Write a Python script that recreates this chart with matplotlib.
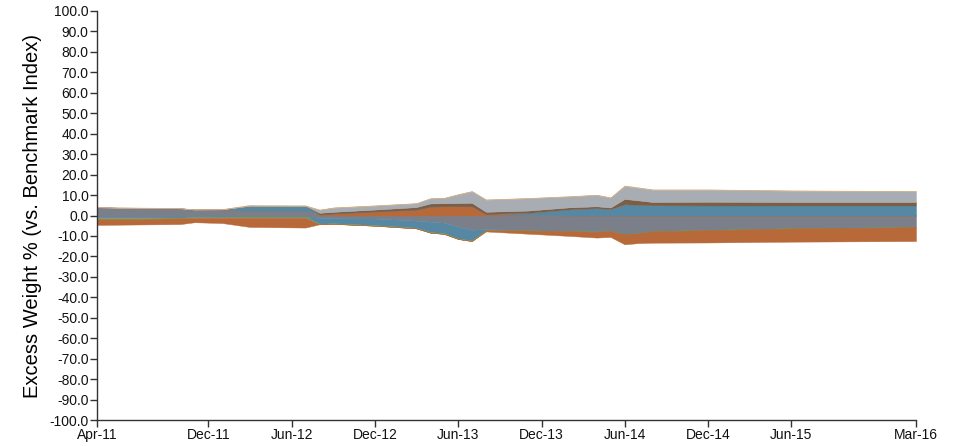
import numpy as np
import pandas as pd
import matplotlib
matplotlib.use("Agg")
import matplotlib.pyplot as plt
import matplotlib.dates as mdates

plt.rcParams['font.family'] = ['Liberation Sans', 'DejaVu Sans']

dates = ["2011-04", "2011-07", "2011-10", "2011-11", "2012-01", "2012-03", "2012-07",
         "2012-08", "2012-09", "2012-12", "2013-03", "2013-04", "2013-05", "2013-06",
         "2013-07", "2013-08", "2013-11", "2014-02", "2014-04", "2014-05", "2014-06",
         "2014-07", "2014-08", "2014-12", "2015-06", "2016-03"]

# series in stacking order (positives stack upward, negatives downward, from zero)
gray_pos   = [4.0, 3.6, 3.5, 2.9, 3.0, 2.3, 2.2, 0, 0, 0, 0, 0, 0, 0,
              0, 0, 0, 0, 0, 0, 0, 0, 0, 0, 0, 0]
gray_neg   = [-0.6, -0.6, -0.5, -0.4, -0.5, -0.6, -0.6, -1.2, -1.3, -1.5, -2.5, -3.0, -3.5, -5.5,
              -7.0, -6.6, -7.2, -7.6, -7.8, -7.5, -9.0, -8.6, -7.6, -7.0, -6.2, -5.6]
orange_pos = [0, 0, 0, 0, 0, 0, 0, 0.5, 1.0, 2.0, 2.9, 4.4, 4.5, 4.6,
              4.6, 0.8, 0.3, 0, 0, 0, 0, 0, 0, 0, 0, 0]
blue_pos   = [0, 0, 0, 0, 0, 2.5, 2.5, 0, 0, 0, 0, 0, 0, 0,
              0, 0, 1.0, 3.0, 3.6, 3.1, 5.5, 5.2, 5.0, 4.9, 4.9, 4.9]
blue_neg   = [-0.6, -0.6, -0.5, -0.4, -0.3, 0, 0, -2.8, -2.5, -3.2, -3.5, -5.1, -5.2, -5.7,
              -5.2, -0.5, 0, 0, 0, 0, 0, 0, 0, 0, 0, 0]
green_neg  = [-0.4, -0.4, -0.4, -0.3, -0.3, -0.5, -0.5, -0.3, -0.3, -0.3, -0.3, -0.3, -0.3, -0.3,
              -0.3, -0.1, -0.1, -0.1, -0.1, -0.1, -0.1, -0.1, -0.1, -0.1, -0.1, -0.1]
orange_neg = [-3.0, -2.8, -2.8, -2.2, -2.6, -4.5, -4.8, 0, 0, 0, 0, 0, 0, 0,
              0, -0.6, -1.6, -2.3, -2.9, -2.9, -5.0, -4.8, -5.6, -6.1, -6.5, -6.8]
brown_pos  = [0, 0, 0, 0, 0, 0, 0, 0.8, 0.8, 0.9, 1.2, 1.5, 1.5, 1.5,
              1.6, 1.0, 1.1, 1.0, 0.9, 0.8, 2.6, 2.2, 1.6, 1.8, 1.7, 1.7]
lgray_pos  = [0, 0, 0, 0, 0, 0, 0, 1.5, 2.0, 1.9, 1.8, 2.4, 2.5, 4.2,
              5.6, 5.9, 6.0, 5.3, 5.5, 4.8, 6.3, 6.1, 6.0, 5.9, 5.5, 5.2]
tan_pos    = [0.2, 0.3, 0.2, 0.1, 0.2, 0.4, 0.3, 0.1, 0.2, 0.2, 0.2, 0.2, 0.2, 0.2,
              0.2, 0.2, 0.2, 0.2, 0.2, 0.2, 0.3, 0.3, 0.2, 0.2, 0.2, 0.2]

series_vals = [gray_pos, gray_neg, orange_pos, blue_pos, blue_neg, green_neg,
               orange_neg, brown_pos, lgray_pos, tan_pos]
GRAY, BLUE, GREEN, ORANGE = "#7b7f8a", "#5687a3", "#6f9e5c", "#b8693a"
BROWN, LGRAY, TAN = "#7d5e45", "#a8adb3", "#d3b08a"
colors = [GRAY, GRAY, ORANGE, BLUE, BLUE, GREEN, ORANGE, BROWN, LGRAY, TAN]

tick_dates = ["2011-04", "2011-12", "2012-06", "2012-12", "2013-06", "2013-12",
              "2014-06", "2014-12", "2015-06", "2016-03"]
tick_labels = ["Apr-11", "Dec-11", "Jun-12", "Dec-12", "Jun-13", "Dec-13",
               "Jun-14", "Dec-14", "Jun-15", "Mar-16"]

x = mdates.date2num(pd.to_datetime(dates))
vals = np.array(series_vals, dtype=float)

fig = plt.figure(figsize=(9.56, 4.46), dpi=100)
ax = fig.add_axes([97/956, 26/446, (916-97)/956, (420-11)/446])

pos_base = np.zeros(len(x))
neg_base = np.zeros(len(x))
for v, c in zip(vals, colors):
    p = np.clip(v, 0, None)
    n = np.clip(v, None, 0)
    if np.all(v >= 0):
        ax.fill_between(x, pos_base, pos_base + p, color=c, linewidth=0.3, edgecolor=c)
        pos_base = pos_base + p
    else:
        ax.fill_between(x, neg_base + n, neg_base, color=c, linewidth=0.3, edgecolor=c)
        neg_base = neg_base + n

ax.set_xlim(x[0], mdates.date2num(pd.Timestamp("2016-03-01")))
ax.set_ylim(-100, 100)
ax.set_yticks(np.arange(-100, 101, 10))
ax.set_yticklabels([f"{t:.1f}" for t in np.arange(-100, 101, 10)])
ax.set_xticks(mdates.date2num(pd.to_datetime(tick_dates)))
ax.set_xticklabels(tick_labels)

for s in ["top", "right"]:
    ax.spines[s].set_visible(False)
for s in ["left", "bottom"]:
    ax.spines[s].set_color("#333333")
    ax.spines[s].set_linewidth(1.0)
ax.tick_params(axis="both", direction="out", length=5, width=1, color="#333333",
               labelsize=10, labelcolor="#111111", pad=1)
ax.set_ylabel("Excess Weight % (vs. Benchmark Index)", fontsize=14.5, labelpad=5)

fig.savefig("out.png", dpi=100)
